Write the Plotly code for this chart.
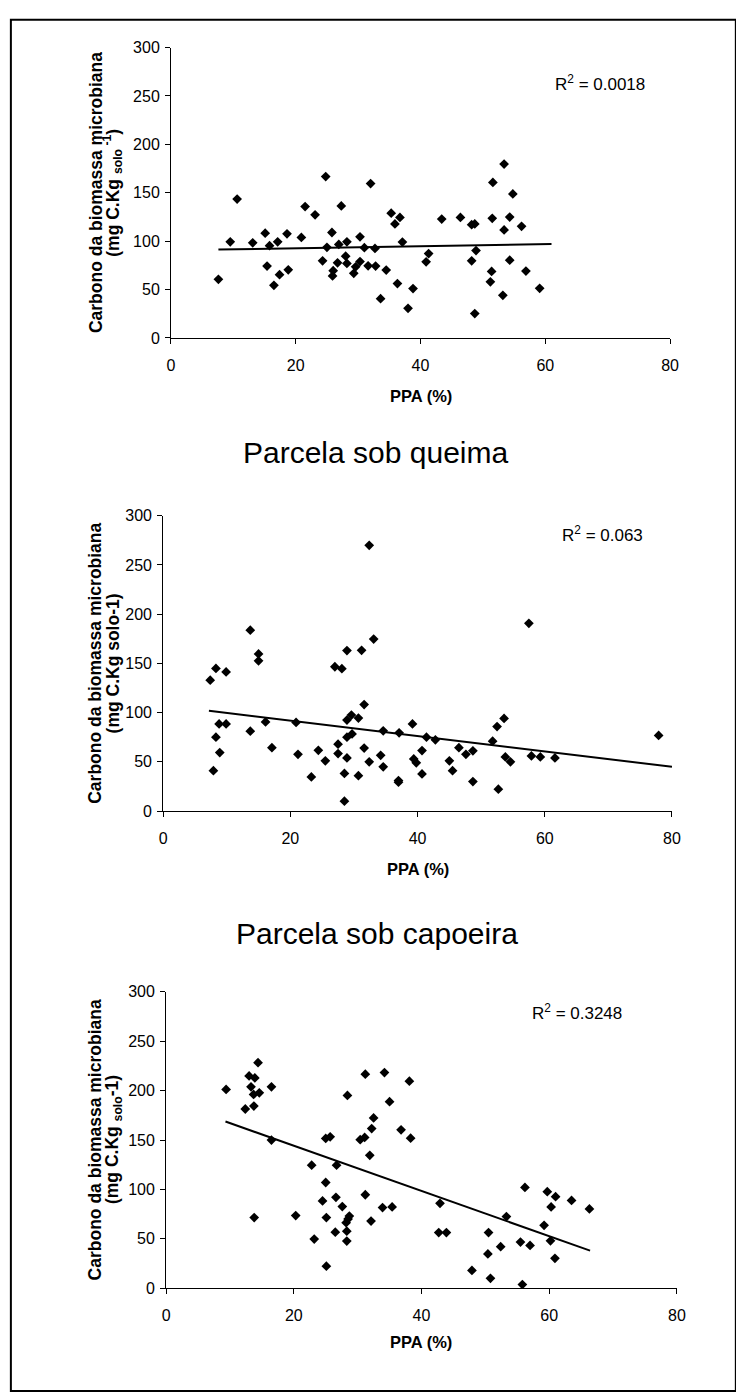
import plotly.graph_objects as go

W, H = 736, 1394

# ---------------- data ----------------
ppa_1 = [7.6, 9.5, 10.6, 13.1, 15.1, 15.8, 15.4, 16.5, 17.1, 17.4, 18.6, 18.8, 20.9, 21.5, 23.1,
         24.8, 24.3, 25.0, 25.8, 26.0, 25.9, 26.9, 27.3, 26.7, 28.0, 28.2, 28.2, 29.3, 29.6, 30.3,
         30.3, 31.0, 31.6, 32.0, 32.7, 32.8, 33.6, 34.5, 35.3, 35.9, 36.7, 36.3, 37.1, 38.0, 38.8,
         40.9, 41.3, 43.4, 46.4, 48.2, 48.7, 48.2, 48.9, 48.7, 51.5, 51.6, 51.4, 51.2, 53.4, 53.4,
         53.2, 54.3, 54.8, 54.3, 56.2, 56.9, 59.1]
cbm_1 = [60.5, 99.3, 143.5, 98.3, 108.2, 95.3, 74.2, 54.4, 99.3, 65.3, 107.5, 70.4, 103.8, 135.7, 127.2,
         166.7, 79.6, 93.6, 108.9, 69.5, 64.0, 96.6, 136.4, 77.6, 84.4, 99.3, 76.9, 66.7, 73.5, 104.4,
         78.9, 93.2, 74.5, 159.5, 92.5, 74.2, 40.5, 70.1, 128.9, 117.7, 124.5, 56.1, 99.0, 30.6, 51.0,
         78.6, 87.1, 122.8, 124.5, 117.0, 117.7, 79.6, 90.2, 25.2, 123.5, 160.6, 68.7, 57.9, 179.6, 111.6,
         44.0, 124.8, 148.7, 80.3, 115.3, 69.1, 51.2]
trend_x_1 = [7.6, 61.0]
trend_y_1 = [91.3, 97.0]
r2_1 = "0.0018"

ppa_2 = [7.4, 8.3, 9.9, 13.7, 15.0, 15.0, 27.0, 28.1, 28.9, 31.2, 32.4, 33.1, 57.5, 31.6, 28.9,
         29.6, 30.7, 8.8, 9.9, 8.3, 8.9, 7.9, 13.7, 16.1, 17.1, 20.9, 21.2, 24.4, 25.5, 27.5,
         27.5, 28.9, 28.9, 29.7, 31.6, 32.4, 34.2, 34.6, 34.6, 37.1, 39.2, 39.4, 39.8, 40.7, 41.4,
         42.8, 45.0, 45.5, 46.5, 47.6, 48.7, 51.8, 52.5, 53.6, 53.8, 54.6, 57.9, 59.3, 61.6, 77.9,
         23.3, 28.5, 28.5, 30.7, 37.0, 37.0, 40.7, 48.7, 52.7]
cbm_2 = [132.9, 144.9, 141.3, 183.7, 159.6, 152.6, 146.6, 144.6, 163.0, 163.3, 269.9, 174.7, 190.7, 108.2, 92.5,
         97.5, 94.5, 88.5, 88.5, 75.1, 59.4, 41.0, 81.1, 90.5, 64.4, 90.0, 57.7, 61.7, 51.0, 68.0,
         58.4, 54.0, 75.1, 78.4, 64.0, 50.0, 56.7, 81.5, 45.0, 79.5, 88.5, 53.0, 49.0, 61.5, 75.1,
         72.4, 51.0, 41.0, 64.4, 57.7, 61.2, 71.0, 85.8, 94.1, 55.0, 50.0, 56.0, 55.0, 54.0, 76.8,
         34.7, 38.3, 10.0, 36.0, 31.0, 29.3, 37.7, 30.0, 22.3]
trend_x_2 = [7.2, 80.0]
trend_y_2 = [101.8, 45.0]
r2_2 = "0.063"

ppa_3 = [9.4, 14.4, 13.0, 13.9, 13.3, 13.7, 14.6, 12.4, 13.75, 16.5, 16.5, 28.4, 31.2, 34.2, 38.1,
         35.0, 32.5, 32.2, 36.8, 38.3, 30.4, 31.1, 25.0, 25.7, 31.9, 22.8, 26.7, 25.0, 31.2, 24.5,
         26.6, 27.6, 33.9, 35.4, 42.9, 56.2, 59.7, 61.0, 63.5, 66.3, 60.3, 53.3, 13.8, 20.3, 25.1,
         28.5, 32.1, 23.2, 25.1, 26.5, 28.2, 28.7, 28.3, 28.3, 42.7, 43.9, 47.9, 50.4, 50.5, 50.8,
         52.4, 55.5, 55.8, 57.0, 59.2, 60.2, 60.9]
cbm_3 = [201.2, 228.3, 214.9, 212.9, 203.9, 196.1, 197.8, 181.4, 184.4, 203.9, 149.9, 195.1, 216.6, 218.3, 209.6,
         188.8, 172.4, 161.6, 160.3, 151.9, 150.3, 152.6, 151.6, 153.3, 134.5, 124.5, 124.5, 107.0, 94.6, 88.3,
         92.0, 82.6, 81.6, 82.3, 85.9, 102.0, 97.7, 92.6, 88.9, 80.2, 82.3, 72.5, 71.5, 73.5, 71.5,
         70.0, 68.0, 49.7, 22.3, 56.7, 66.3, 73.0, 57.7, 47.7, 56.3, 56.3, 18.0, 34.7, 56.3, 10.0,
         42.0, 46.7, 3.7, 43.3, 63.7, 48.0, 30.3]
trend_x_3 = [9.3, 66.4]
trend_y_3 = [168.7, 38.0]
r2_3 = "0.3248"

x_ticks = [0, 20, 40, 60, 80]
y_ticks = [0, 50, 100, 150, 200, 250, 300]
panel_titles = ["Parcela sob queima", "Parcela sob capoeira"]
x_title = "PPA (%)"
y_title_1 = "Carbono da biomassa microbiana"
y_title_2 = ["(mg C.Kg <sub>solo</sub><sup> -1</sup>)", "(mg C.Kg solo-1)", "(mg C.Kg <sub>solo</sub>-1)"]

# ---------------- layout (pixels) ----------------
FONT = "Liberation Sans, Arial, Helvetica, sans-serif"
panels = [
    # x0, x1, ytop, ybottom
    (170, 678, 40, 334),
    (162, 680, 514, 813),
    (165, 685, 996, 1296),
]
r2_pos = [(655, 76), (653, 532), (631, 1016)]
xtitle_y = [393, 872, 1350]
title_pos = [(378, 450), (380, 937)]

def fx(x):
    return x / W

def fy(y):
    return 1 - y / H

fig = go.Figure()
data = [(ppa_1, cbm_1, trend_x_1, trend_y_1, r2_1),
        (ppa_2, cbm_2, trend_x_2, trend_y_2, r2_2),
        (ppa_3, cbm_3, trend_x_3, trend_y_3, r2_3)]

annotations = []
for i, ((px, py, tx, ty, r2), (x0, x1, yt, yb)) in enumerate(zip(data, panels)):
    sfx = "" if i == 0 else str(i + 1)
    xa, ya = "x" + sfx, "y" + sfx
    fig.add_trace(go.Scatter(x=px, y=py, mode="markers", xaxis=xa, yaxis=ya,
                             marker=dict(symbol="diamond", size=7.5, color="black"),
                             showlegend=False, hoverinfo="skip"))
    fig.add_trace(go.Scatter(x=tx, y=ty, mode="lines", xaxis=xa, yaxis=ya,
                             line=dict(color="black", width=2),
                             showlegend=False, hoverinfo="skip"))
    axis_common = dict(showline=True, linecolor="black", linewidth=1, ticks="outside",
                       ticklen=5, tickcolor="black", tickwidth=1, showgrid=False, zeroline=False,
                       tickfont=dict(family=FONT, size=16, color="black"))
    fig.update_layout(**{
        "xaxis" + sfx: dict(domain=[fx(x0), fx(x1)], range=[0, 80], tickvals=x_ticks,
                            anchor=ya, ticklabelstandoff=8, **axis_common),
        "yaxis" + sfx: dict(domain=[fy(yb), fy(yt)], range=[0, 300], tickvals=y_ticks,
                            anchor=xa, ticklabelstandoff=2, **axis_common),
    })
    cy = (yt + yb) / 2
    annotations.append(dict(x=fx(93), y=fy(cy), xref="paper", yref="paper", text="<b>" + y_title_1 + "</b>",
                            textangle=-90, showarrow=False, xanchor="center", yanchor="middle",
                            font=dict(family=FONT, size=17.5, color="black")))
    annotations.append(dict(x=fx(111), y=fy(cy), xref="paper", yref="paper", text="<b>" + y_title_2[i] + "</b>",
                            textangle=-90, showarrow=False, xanchor="center", yanchor="middle",
                            font=dict(family=FONT, size=17.5, color="black")))
    annotations.append(dict(x=fx((x0 + x1) / 2), y=fy(xtitle_y[i]), xref="paper", yref="paper",
                            text="<b>" + x_title + "</b>", showarrow=False, xanchor="center", yanchor="middle",
                            font=dict(family=FONT, size=16.5, color="black")))
    rx, ry = r2_pos[i]
    annotations.append(dict(x=fx(rx), y=fy(ry), xref="paper", yref="paper",
                            text="R<sup>2</sup> = " + r2, showarrow=False, xanchor="right", yanchor="middle",
                            font=dict(family=FONT, size=17, color="black")))

for t, (tx, ty) in zip(panel_titles, title_pos):
    annotations.append(dict(x=fx(tx), y=fy(ty), xref="paper", yref="paper", text=t, showarrow=False,
                            xanchor="center", yanchor="middle",
                            font=dict(family=FONT, size=30, color="black")))

fig.update_layout(
    width=W, height=H, margin=dict(l=0, r=0, t=0, b=0),
    paper_bgcolor="white", plot_bgcolor="white",
    annotations=annotations,
    shapes=[dict(type="rect", xref="paper", yref="paper", x0=fx(7), x1=fx(745), y0=fy(1400), y1=fy(12),
                 line=dict(color="black", width=2))],
)

fig.write_html("out.html")
